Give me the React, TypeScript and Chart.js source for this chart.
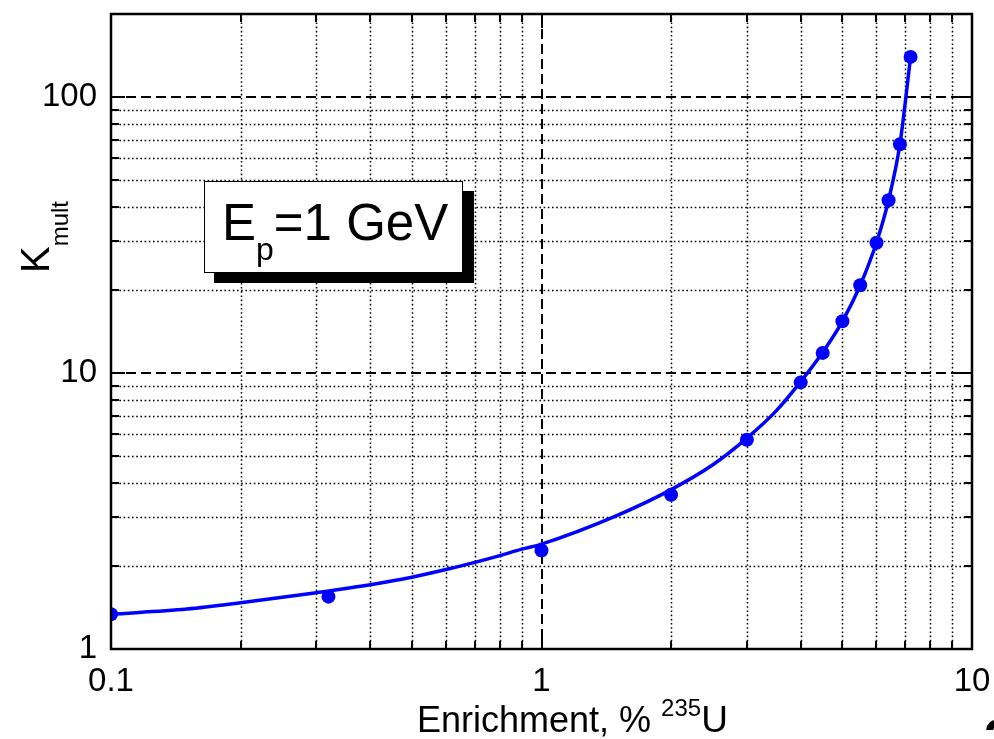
import React, { useEffect, useRef } from 'react';
import { Chart, registerables } from 'chart.js';

Chart.register(...registerables);

// Measured points (markers)
const markerX = [0.1, 0.32, 1, 2, 3, 4, 4.5, 5, 5.5, 6, 6.4, 6.8, 7.2];
const markerY = [1.336, 1.548, 2.274, 3.62, 5.73, 9.25, 11.83, 15.4, 20.8, 29.65, 42.3, 67.4, 139.8];

// Fitted curve
const curveX = [0.1, 0.15, 0.2, 0.3, 0.4, 0.5, 0.6, 0.7, 0.8, 0.9, 1, 1.5, 2, 2.5, 3, 3.5, 4, 4.5, 5, 5.5, 6, 6.4, 6.8, 7.2];
const curveY = [1.336, 1.395, 1.47, 1.6, 1.71, 1.82, 1.94, 2.06, 2.18, 2.3, 2.4, 3.05, 3.78, 4.65, 5.81, 7.26, 9.31, 11.9, 15.4, 20.8, 29.7, 42.3, 67.4, 139.8];

// Axis ticks and grid
const xTickLabels = [0.1, 1, 10];
const yTickLabels = [1, 10, 100];
const xMajorGrid = [1];
const yMajorGrid = [10, 100];
const xMinorGrid = [0.2, 0.3, 0.4, 0.5, 0.6, 0.7, 0.8, 0.9, 2, 3, 4, 5, 6, 7, 8, 9];
const yMinorGrid = [2, 3, 4, 5, 6, 7, 8, 9, 20, 30, 40, 50, 60, 70, 80, 90];

const X_MIN = 0.1;
const X_MAX = 10;
const Y_MIN = 1;
const Y_MAX = 200;

const FONT = '"Liberation Sans", Arial, Helvetica, sans-serif';
const BLUE = '#0000ff';

const framePlugin = {
  id: 'frame',
  beforeDatasetsDraw(chart: any) {
    const { ctx, chartArea: a, scales } = chart;
    const x = scales.x;
    const y = scales.y;
    ctx.save();
    ctx.strokeStyle = '#000';
    // minor dotted grid
    ctx.lineWidth = 1.5;
    ctx.setLineDash([1.6, 2.6]);
    ctx.beginPath();
    for (const v of xMinorGrid) {
      const px = Math.round(x.getPixelForValue(v)) + 0.5;
      ctx.moveTo(px, a.top);
      ctx.lineTo(px, a.bottom);
    }
    for (const v of yMinorGrid) {
      const py = Math.round(y.getPixelForValue(v)) + 0.5;
      ctx.moveTo(a.left, py);
      ctx.lineTo(a.right, py);
    }
    ctx.stroke();
    // major dashed grid
    ctx.strokeStyle = '#000';
    ctx.lineWidth = 2;
    ctx.setLineDash([10, 5]);
    ctx.beginPath();
    for (const v of xMajorGrid) {
      const px = Math.round(x.getPixelForValue(v));
      ctx.moveTo(px, a.top);
      ctx.lineTo(px, a.bottom);
    }
    for (const v of yMajorGrid) {
      const py = Math.round(y.getPixelForValue(v));
      ctx.moveTo(a.left, py);
      ctx.lineTo(a.right, py);
    }
    ctx.stroke();
    ctx.restore();
  },
  afterDatasetsDraw(chart: any) {
    const { ctx, chartArea: a, scales } = chart;
    const x = scales.x;
    const y = scales.y;
    ctx.save();
    ctx.setLineDash([]);
    ctx.strokeStyle = '#000';
    // inward ticks
    ctx.lineWidth = 2;
    ctx.beginPath();
    const tickX = (v: number, len: number) => {
      const px = Math.round(x.getPixelForValue(v));
      ctx.moveTo(px, a.bottom);
      ctx.lineTo(px, a.bottom - len);
      ctx.moveTo(px, a.top);
      ctx.lineTo(px, a.top + len);
    };
    const tickY = (v: number, len: number) => {
      const py = Math.round(y.getPixelForValue(v));
      ctx.moveTo(a.left, py);
      ctx.lineTo(a.left + len, py);
      ctx.moveTo(a.right, py);
      ctx.lineTo(a.right - len, py);
    };
    xMinorGrid.forEach((v) => tickX(v, 8));
    xMajorGrid.forEach((v) => tickX(v, 14));
    yMinorGrid.forEach((v) => tickY(v, 8));
    yMajorGrid.forEach((v) => tickY(v, 14));
    ctx.stroke();
    // frame
    ctx.lineWidth = 2.5;
    ctx.strokeRect(a.left, a.top, a.right - a.left, a.bottom - a.top);

    // annotation box with shadow
    ctx.fillStyle = '#000';
    ctx.fillRect(214, 191, 260, 92);
    ctx.fillStyle = '#fff';
    ctx.fillRect(204, 181, 259, 92);
    ctx.lineWidth = 1;
    ctx.strokeRect(204.5, 181.5, 258, 91);
    ctx.fillStyle = '#000';
    ctx.textBaseline = 'alphabetic';
    ctx.textAlign = 'left';
    ctx.font = `51px ${FONT}`;
    let cx = 222;
    ctx.fillText('E', cx, 240);
    cx += ctx.measureText('E').width;
    ctx.font = `32px ${FONT}`;
    ctx.fillText('p', cx, 260);
    cx += ctx.measureText('p').width;
    ctx.font = `51px ${FONT}`;
    ctx.fillText('=1 GeV', cx, 240);
    ctx.restore();
  },
  afterDraw(chart: any) {
    const { ctx } = chart;
    ctx.save();
    ctx.fillStyle = '#000';
    ctx.textBaseline = 'alphabetic';
    ctx.textAlign = 'left';
    // y title K_mult
    ctx.translate(49, 273);
    ctx.rotate(-Math.PI / 2);
    ctx.font = `40px ${FONT}`;
    ctx.fillText('K', 0, 0);
    const kw = ctx.measureText('K').width;
    ctx.font = `24px ${FONT}`;
    ctx.fillText('mult', kw, 19);
    ctx.restore();

    // x title
    ctx.save();
    ctx.fillStyle = '#000';
    ctx.textBaseline = 'alphabetic';
    ctx.textAlign = 'left';
    let tx = 417;
    ctx.font = `36px ${FONT}`;
    const t1 = 'Enrichment, % ';
    ctx.fillText(t1, tx, 732);
    tx += ctx.measureText(t1).width;
    ctx.font = `24px ${FONT}`;
    ctx.fillText('235', tx, 716);
    tx += ctx.measureText('235').width;
    ctx.font = `37px ${FONT}`;
    ctx.fillText('U', tx, 732);

    // partially visible glyph at bottom-right corner
    ctx.font = `bold 52px ${FONT}`;
    ctx.fillText('2', 984, 756);
    ctx.restore();
  },
};

export default function App() {
  const ref = useRef<HTMLCanvasElement | null>(null);

  useEffect(() => {
    document.body.style.margin = '0';
    const canvas = ref.current;
    if (!canvas) return;
    const chart = new Chart(canvas, {
      type: 'scatter',
      data: {
        datasets: [
          {
            label: 'fit',
            data: curveX.map((v, i) => ({ x: v, y: curveY[i] })),
            showLine: true,
            borderColor: BLUE,
            borderWidth: 3.5,
            pointRadius: 0,
            cubicInterpolationMode: 'monotone',
            clip: 0,
            order: 2,
          } as any,
          {
            label: 'data',
            data: markerX.map((v, i) => ({ x: v, y: markerY[i] })),
            showLine: false,
            backgroundColor: BLUE,
            borderColor: BLUE,
            borderWidth: 0,
            pointRadius: 7,
            clip: 0,
            order: 1,
          } as any,
        ],
      },
      options: {
        responsive: false,
        animation: false,
        devicePixelRatio: 1,
        layout: { padding: { left: 0, top: 14, right: 22, bottom: 0 } },
        plugins: {
          legend: { display: false },
          tooltip: { enabled: false },
          title: { display: false },
        },
        scales: {
          x: {
            type: 'logarithmic',
            min: X_MIN,
            max: X_MAX,
            grid: { display: false, drawTicks: false },
            border: { display: false },
            afterBuildTicks: (s: any) => {
              s.ticks = xTickLabels.map((v) => ({ value: v }));
            },
            afterFit: (s: any) => {
              s.height = 90;
              s.paddingLeft = 0;
              s.paddingRight = 0;
            },
            ticks: {
              autoSkip: false,
              maxRotation: 0,
              padding: 13,
              color: '#000',
              font: { family: FONT, size: 33 },
              callback: (v: any) => String(v),
            },
          },
          y: {
            type: 'logarithmic',
            min: Y_MIN,
            max: Y_MAX,
            grid: { display: false, drawTicks: false },
            border: { display: false },
            afterBuildTicks: (s: any) => {
              s.ticks = yTickLabels.map((v) => ({ value: v }));
            },
            afterFit: (s: any) => {
              s.width = 111;
              s.paddingTop = 0;
              s.paddingBottom = 0;
            },
            ticks: {
              autoSkip: false,
              padding: 14,
              color: '#000',
              font: { family: FONT, size: 33 },
              callback: (v: any) => String(v),
            },
          },
        },
      },
      plugins: [framePlugin],
    });
    return () => chart.destroy();
  }, []);

  return <canvas ref={ref} width={994} height={739} style={{ display: 'block', width: 994, height: 739 }} />;
}
